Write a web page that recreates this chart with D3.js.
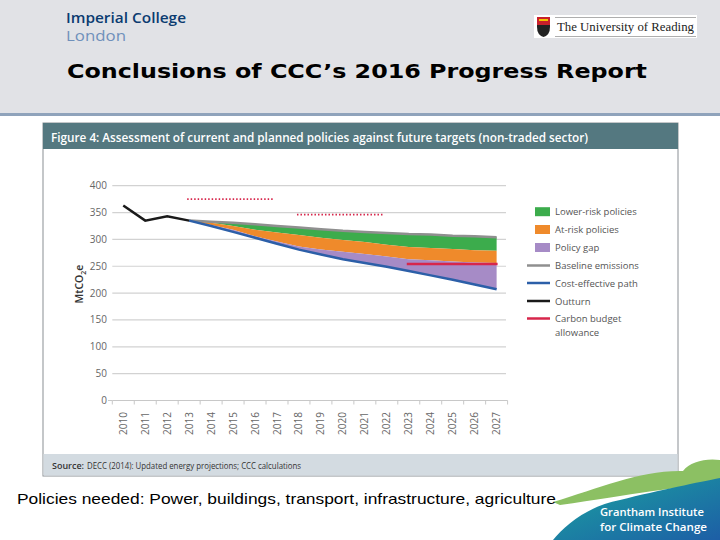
<!DOCTYPE html>
<html><head><meta charset="utf-8">
<script src="https://cdn.jsdelivr.net/npm/d3@7"></script>
<style>body{margin:0;background:#fff}svg{display:block}</style>
</head><body>
<script>
const years = d3.range(2010, 2028);
const yTicks = [0, 50, 100, 150, 200, 250, 300, 350, 400];
const outturnYears = [2010, 2011, 2012, 2013];
const outturn = [363, 335, 343, 335];
const projYears = d3.range(2013, 2028);
const baseline      = [335, 333, 331, 328, 325, 322, 319, 316, 314, 312, 310, 309, 307, 306, 304];
const withLowerRisk = [335, 331, 325, 318, 313, 308, 303, 299, 295, 290, 286, 284, 282, 280, 279];
const withAtRisk    = [335, 327, 318, 306, 296, 287, 281, 277, 273, 268, 263, 261, 259, 257, 256];
const costEffective = [335, 325, 314, 303, 292, 281, 272, 263, 256, 249, 241, 233, 225, 216, 207];
const budgetPeriods = [[2013, 2017, 375], [2018, 2022, 346]];
const budgetSolid = [[2023, 2027, 254]];
const legendItems = [
  {label: "Lower-risk policies", type: "box", color: "#3cac4c"},
  {label: "At-risk policies", type: "box", color: "#ef8a2b"},
  {label: "Policy gap", type: "box", color: "#a68bc6"},
  {label: "Baseline emissions", type: "line", color: "#8f8f8f"},
  {label: "Cost-effective path", type: "line", color: "#2c5fa8"},
  {label: "Outturn", type: "line", color: "#1a1a1a"},
  {label: "Carbon budget", type: "line", color: "#d7264b"}
];

const W = 720, H = 540;
const svg = d3.select("body").append("svg").attr("width", W).attr("height", H);

// Slide header
svg.append("rect").attr("x", 0).attr("y", 0).attr("width", W).attr("height", 114).attr("fill", "#e1e2e6");
svg.append("rect").attr("x", 0).attr("y", 113).attr("width", W).attr("height", 3).attr("fill", "#8fa3bb");
svg.append("text").attr("x", 66).attr("y", 23).attr("font-family", "Open Sans").attr("font-weight", 600)
  .attr("font-size", 14).attr("fill", "#0b3b70").attr("textLength", 120).attr("lengthAdjust", "spacingAndGlyphs").text("Imperial College");
svg.append("text").attr("x", 66).attr("y", 41).attr("font-family", "Open Sans").attr("font-weight", 400)
  .attr("font-size", 14).attr("fill", "#6f90bb").attr("textLength", 60).attr("lengthAdjust", "spacingAndGlyphs").text("London");
// Reading logo
svg.append("rect").attr("x", 534).attr("y", 15).attr("width", 163).attr("height", 23).attr("fill", "#fff");
svg.append("line").attr("x1", 555).attr("x2", 696).attr("y1", 17.5).attr("y2", 17.5).attr("stroke", "#999").attr("stroke-width", 0.8);
svg.append("line").attr("x1", 555).attr("x2", 696).attr("y1", 36.5).attr("y2", 36.5).attr("stroke", "#999").attr("stroke-width", 0.8);
svg.append("path").attr("d", "M537,17 h13 v10 q0,8 -6.5,10 q-6.5,-2 -6.5,-10 z").attr("fill", "#222");
svg.append("rect").attr("x", 537).attr("y", 17).attr("width", 13).attr("height", 8).attr("fill", "#c8202b");
svg.append("rect").attr("x", 539).attr("y", 19).attr("width", 9).attr("height", 2).attr("fill", "#f2c500");
svg.append("text").attr("x", 557).attr("y", 31).attr("font-family", "Liberation Serif").attr("font-size", 11.5)
  .attr("fill", "#222").attr("textLength", 137).attr("lengthAdjust", "spacingAndGlyphs").text("The University of Reading");
svg.append("text").attr("x", 67).attr("y", 78).attr("font-family", "DejaVu Sans").attr("font-weight", "bold")
  .attr("font-size", 20).attr("fill", "#000").attr("textLength", 580).attr("lengthAdjust", "spacingAndGlyphs")
  .text("Conclusions of CCC’s 2016 Progress Report");

// Figure frame
const fx = 43, fy = 123, fw = 635, fh = 353;
svg.append("rect").attr("x", fx).attr("y", fy).attr("width", fw).attr("height", fh).attr("fill", "#fff").attr("stroke", "#8a8f94").attr("stroke-width", 1);
svg.append("rect").attr("x", fx).attr("y", fy).attr("width", fw).attr("height", 26).attr("fill", "#547880");
svg.append("text").attr("x", 51).attr("y", 141.5).attr("font-family", "Open Sans").attr("font-weight", 600)
  .attr("font-size", 12).attr("fill", "#fff").attr("textLength", 537).attr("lengthAdjust", "spacingAndGlyphs")
  .text("Figure 4: Assessment of current and planned policies against future targets (non-traded sector)");
svg.append("rect").attr("x", fx + 0.5).attr("y", 454).attr("width", fw - 1).attr("height", 21.5).attr("fill", "#d3dbe1");
svg.append("text").attr("x", 52).attr("y", 468.5).attr("font-family", "Open Sans").attr("font-weight", 600)
  .attr("font-size", 9.5).attr("fill", "#333").attr("textLength", 32).attr("lengthAdjust", "spacingAndGlyphs").text("Source:");
svg.append("text").attr("x", 87).attr("y", 468.5).attr("font-family", "Open Sans")
  .attr("font-size", 9.5).attr("fill", "#333").attr("textLength", 214).attr("lengthAdjust", "spacingAndGlyphs")
  .text("DECC (2014): Updated energy projections; CCC calculations");

// Chart
const x = d3.scalePoint().domain(years).range([112.3, 507.6]).padding(0.5);
const xb = d3.scaleBand().domain(years).range([112.3, 507.6]);
const y = d3.scaleLinear().domain([0, 400]).range([400.5, 185.7]);

const g = svg.append("g");
g.selectAll(".grid").data(yTicks.filter(d => d > 0)).join("line")
  .attr("x1", 112.3).attr("x2", 506).attr("y1", d => y(d)).attr("y2", d => y(d))
  .attr("stroke", "#d2d2d2").attr("stroke-width", 1.2);
g.append("line").attr("x1", 112.3).attr("x2", 507.6).attr("y1", y(0)).attr("y2", y(0)).attr("stroke", "#c8c8c8").attr("stroke-width", 1);
g.selectAll(".xt").data(years.concat([null])).join("line")
  .attr("x1", (d, i) => i < years.length ? xb(d) : 507.6).attr("x2", (d, i) => i < years.length ? xb(d) : 507.6)
  .attr("y1", y(0)).attr("y2", y(0) + 4).attr("stroke", "#c8c8c8");
g.append("line").attr("x1", 108).attr("x2", 112.3).attr("y1", y(0)).attr("y2", y(0)).attr("stroke", "#c8c8c8");

g.selectAll(".yl").data(yTicks).join("text")
  .attr("x", 107).attr("y", d => y(d) + 3.5).attr("text-anchor", "end")
  .attr("font-family", "Open Sans").attr("font-size", 10).attr("fill", "#666").text(d => d);
g.selectAll(".xl").data(years).join("text")
  .attr("transform", d => `translate(${x(d) + 3.5},412) rotate(-90)`).attr("text-anchor", "end")
  .attr("font-family", "Open Sans").attr("font-size", 10).attr("fill", "#666").text(d => d);
const yl = g.append("text").attr("transform", "translate(83,284) rotate(-90)").attr("text-anchor", "middle")
  .attr("font-family", "Open Sans").attr("font-weight", 600).attr("font-size", 10.5).attr("fill", "#333");
yl.append("tspan").text("MtCO");
yl.append("tspan").attr("font-size", 7).attr("dy", 3).text("2");
yl.append("tspan").attr("dy", -3).text("e");

const proj = projYears.map((yr, i) => ({yr, b: baseline[i], lr: withLowerRisk[i], ar: withAtRisk[i], ce: costEffective[i]}));
const area = (top, bot) => d3.area().x(d => x(d.yr)).y0(d => y(d[bot])).y1(d => y(d[top]));
g.append("path").datum(proj).attr("d", area("b", "lr")).attr("fill", "#3cac4c");
g.append("path").datum(proj).attr("d", area("lr", "ar")).attr("fill", "#ef8a2b");
g.append("path").datum(proj).attr("d", area("ar", "ce")).attr("fill", "#a68bc6");
const line = key => d3.line().x(d => x(d.yr)).y(d => y(d[key]));
g.append("path").datum(proj).attr("d", line("b")).attr("fill", "none").attr("stroke", "#8f8f8f").attr("stroke-width", 2.5);
g.append("path").datum(proj).attr("d", line("ce")).attr("fill", "none").attr("stroke", "#2c5fa8").attr("stroke-width", 2.5);
const out = outturnYears.map((yr, i) => ({yr, v: outturn[i]}));
g.append("path").datum(out).attr("d", line("v")).attr("fill", "none").attr("stroke", "#1a1a1a").attr("stroke-width", 2.5);
g.selectAll(".bp").data(budgetPeriods).join("line")
  .attr("x1", d => x(d[0]) - 2).attr("x2", d => x(d[1]) - 3).attr("y1", d => y(d[2])).attr("y2", d => y(d[2]))
  .attr("stroke", "#d7264b").attr("stroke-width", 1.8).attr("stroke-dasharray", "1.5,2");
g.selectAll(".bs").data(budgetSolid).join("line")
  .attr("x1", d => x(d[0]) - 2).attr("x2", d => x(d[1]) + 1).attr("y1", d => y(d[2])).attr("y2", d => y(d[2]))
  .attr("stroke", "#d7264b").attr("stroke-width", 2.5);

// Legend
const lg = svg.append("g");
const ly = [211.7, 229.5, 247.5, 265.5, 283, 301, 318.5];
legendItems.forEach((it, i) => {
  if (it.type === "box") lg.append("rect").attr("x", 535).attr("y", ly[i] - 4.5).attr("width", 15).attr("height", 9).attr("fill", it.color);
  else lg.append("line").attr("x1", 527).attr("x2", 550).attr("y1", ly[i]).attr("y2", ly[i]).attr("stroke", it.color).attr("stroke-width", 2.5);
  lg.append("text").attr("x", 555).attr("y", ly[i] + 3.5).attr("font-family", "Open Sans").attr("font-size", 9.5)
    .attr("fill", "#555").text(it.label);
});
lg.append("text").attr("x", 555).attr("y", 335.5).attr("font-family", "Open Sans").attr("font-size", 9.5).attr("fill", "#555").text("allowance");

// Grantham logo waves
const defs = svg.append("defs");
const gr = defs.append("linearGradient").attr("id", "gt").attr("x1", 0).attr("y1", 0).attr("x2", 1).attr("y2", 1);
gr.append("stop").attr("offset", 0).attr("stop-color", "#1aa3a0");
gr.append("stop").attr("offset", 1).attr("stop-color", "#1d5ea6");
svg.append("path").attr("d", "M553,502 C600,488 640,470 683,471 C690,462 705,458 720,460 L720,485 C680,485 630,495 560,505 Z").attr("fill", "#8cc063");
svg.append("path").attr("d", "M553,540 C565,525 590,505 620,500 C660,490 700,482 720,478 L720,540 Z").attr("fill", "url(#gt)");
svg.append("text").attr("x", 600).attr("y", 515.5).attr("font-family", "Open Sans").attr("font-weight", 600)
  .attr("font-size", 11).attr("fill", "#fff").attr("textLength", 104).attr("lengthAdjust", "spacingAndGlyphs").text("Grantham Institute");
svg.append("text").attr("x", 600).attr("y", 531).attr("font-family", "Open Sans").attr("font-weight", 600)
  .attr("font-size", 11).attr("fill", "#fff").attr("textLength", 107).attr("lengthAdjust", "spacingAndGlyphs").text("for Climate Change");

svg.append("text").attr("x", 17).attr("y", 504).attr("font-family", "Liberation Sans").attr("font-size", 15)
  .attr("fill", "#000").attr("textLength", 539).attr("lengthAdjust", "spacingAndGlyphs")
  .text("Policies needed: Power, buildings, transport, infrastructure, agriculture");
</script>
</body></html>
